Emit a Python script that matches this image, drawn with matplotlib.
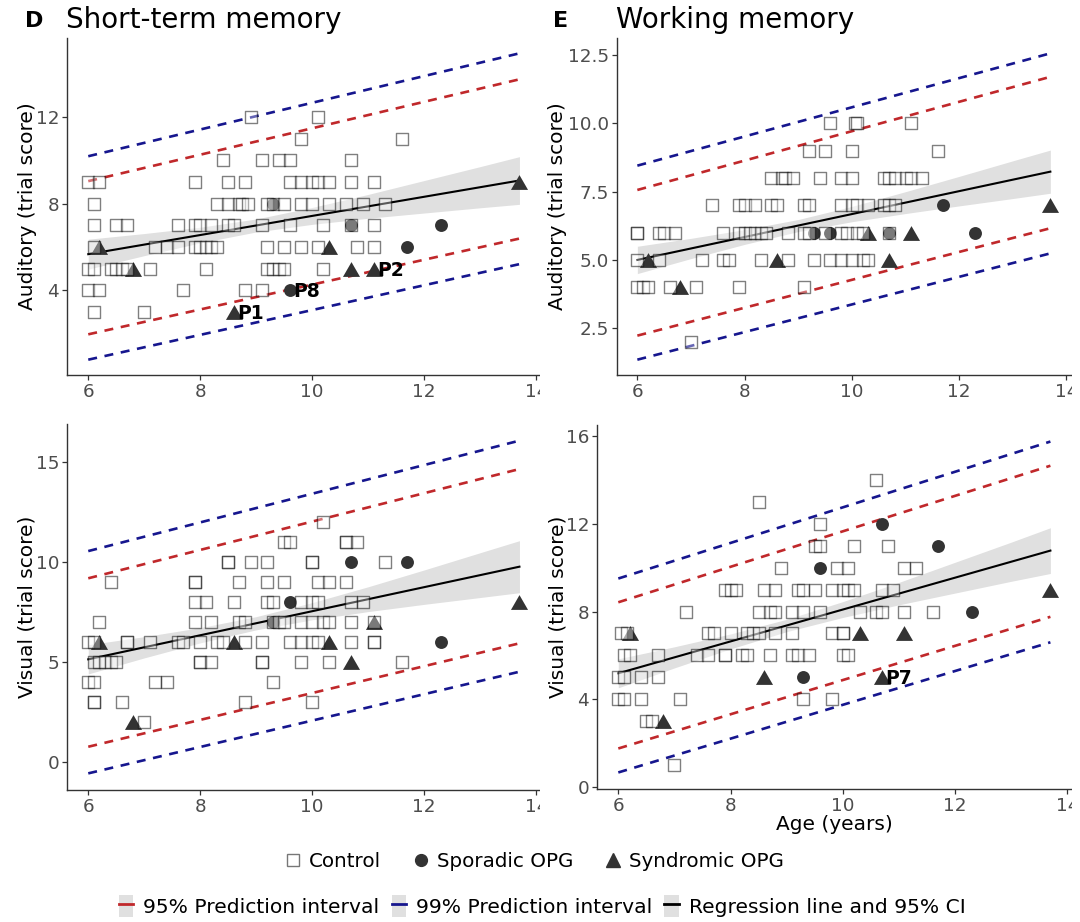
import numpy as np
import matplotlib
matplotlib.use("Agg")
import matplotlib.pyplot as plt
from matplotlib.lines import Line2D
from matplotlib.patches import Patch, Rectangle
from matplotlib.ticker import FormatStrFormatter

plt.rcParams['font.family'] = ['DejaVu Sans']

# ---------------- data ----------------
# patient groups (ages shared across panels)
synd_age = [6.2, 6.8, 8.6, 10.3, 10.7, 11.1, 13.7]
spor_age = [9.3, 9.6, 10.7, 11.7, 12.3]

synd_st_aud = [6, 5, 3, 6, 5, 5, 9]
synd_wm_aud = [5, 4, 5, 6, 5, 6, 7]
synd_st_vis = [6, 2, 6, 6, 5, 7, 8]
synd_wm_vis = [7, 3, 5, 7, 5, 7, 9]

spor_st_aud = [8, 4, 7, 6, 7]
spor_wm_aud = [6, 6, 6, 7, 6]
spor_st_vis = [7, 8, 10, 10, 6]
spor_wm_vis = [5, 10, 12, 11, 8]

# controls: score -> ages
ctrl_st_aud = {
    12: [8.9, 10.1],
    11: [9.8, 11.6],
    10: [8.4, 9.1, 9.4, 9.6, 10.7],
    9: [6.0, 6.2, 7.9, 8.5, 8.8, 9.6, 9.8, 10.0, 10.1, 10.3, 10.7, 11.1],
    8: [6.1, 8.3, 8.5, 8.7, 8.75, 8.85, 9.2, 9.3, 9.5, 9.8, 10.0, 10.3, 10.6, 10.9, 11.3],
    7: [6.1, 6.5, 6.7, 7.6, 7.9, 8.0, 8.2, 8.5, 8.6, 9.1, 9.6, 10.2, 10.7, 11.1],
    6: [6.1, 7.2, 7.4, 7.6, 7.9, 8.0, 8.1, 8.2, 8.3, 9.2, 9.5, 9.8, 10.1, 10.8, 11.1],
    5: [6.0, 6.1, 6.4, 6.5, 6.6, 6.7, 7.1, 8.1, 9.2, 9.3, 9.4, 9.5, 10.2],
    4: [6.0, 6.2, 7.7, 8.8, 9.1],
    3: [6.1, 7.0],
}
ctrl_wm_aud = {
    10: [9.6, 10.05, 10.1, 11.1],
    9: [9.2, 9.5, 10.0, 11.6],
    8: [8.5, 8.7, 8.75, 8.9, 9.4, 9.8, 10.0, 10.6, 10.7, 10.8, 11.0, 11.1, 11.3],
    7: [7.4, 7.9, 8.0, 8.2, 8.5, 8.6, 9.1, 9.2, 9.8, 10.0, 10.1, 10.3, 10.6, 10.7, 10.8],
    6: [6.0, 6.0, 6.4, 6.5, 6.7, 7.6, 7.9, 8.0, 8.1, 8.2, 8.3, 8.4, 8.8, 9.1, 9.2, 9.5,
        9.8, 9.9, 10.1, 10.2, 10.7],
    5: [6.0, 6.4, 7.2, 7.6, 7.7, 8.3, 8.8, 9.3, 9.6, 9.8, 10.0, 10.2, 10.3],
    4: [6.0, 6.1, 6.2, 6.6, 7.1, 7.9, 9.1],
    2: [7.0],
}
ctrl_st_vis = {
    12: [10.2],
    11: [9.5, 9.6, 10.6, 10.6, 10.8],
    10: [8.5, 8.5, 8.9, 9.2, 10.0, 10.0, 11.3],
    9: [6.4, 7.9, 7.9, 8.7, 9.2, 9.5, 10.1, 10.3, 10.6],
    8: [7.9, 8.1, 8.6, 9.2, 9.3, 9.8, 10.0, 10.1, 10.7, 10.9],
    7: [6.2, 7.9, 8.2, 8.7, 8.8, 9.3, 9.4, 9.5, 9.8, 10.0, 10.2, 10.3, 10.7, 11.1],
    6: [6.0, 6.1, 6.7, 6.7, 7.1, 7.6, 7.7, 8.0, 8.3, 8.4, 8.8, 9.1, 9.6, 9.8, 10.0,
        10.1, 10.7, 11.1, 11.1],
    5: [6.1, 6.2, 6.3, 6.4, 6.5, 8.0, 8.0, 8.2, 9.1, 9.1, 9.8, 10.3, 11.6],
    4: [6.0, 6.1, 7.2, 7.4, 9.3],
    3: [6.1, 6.1, 6.6, 8.8, 10.0],
    2: [7.0],
}
ctrl_wm_vis = {
    14: [10.6],
    13: [8.5],
    12: [9.6],
    11: [9.5, 9.6, 10.2, 10.8],
    10: [8.9, 9.9, 10.1, 11.1, 11.3],
    9: [7.9, 8.0, 8.1, 8.6, 8.8, 9.2, 9.3, 9.5, 9.8, 10.0, 10.1, 10.2, 10.7, 10.9],
    8: [7.2, 8.5, 8.7, 8.8, 9.1, 9.3, 9.6, 10.3, 10.6, 10.7, 11.1, 11.6],
    7: [6.05, 6.15, 7.6, 7.7, 8.0, 8.3, 8.4, 8.5, 8.8, 9.1, 9.8, 10.0, 10.0],
    6: [6.1, 6.2, 6.7, 7.4, 7.6, 7.9, 7.9, 8.2, 8.3, 8.7, 9.1, 9.2, 9.4, 10.0, 10.1],
    5: [6.0, 6.1, 6.4, 6.7],
    4: [6.0, 6.1, 6.4, 7.1, 9.3, 9.8],
    3: [6.5, 6.6],
    1: [7.0],
}

# line end values at ages 6 and 13.7
line_ages = [6.0, 13.7]
fit_st_aud = [5.67, 9.07]; pi95_st_aud = ([1.97, 6.39], [9.04, 13.74]); pi99_st_aud = ([0.80, 5.21], [10.19, 14.94])
fit_wm_aud = [5.00, 8.23]; pi95_wm_aud = ([2.23, 6.16], [7.56, 11.70]); pi99_wm_aud = ([1.35, 5.24], [8.45, 12.56])
fit_st_vis = [5.12, 9.75]; pi95_st_vis = ([0.75, 5.92], [9.17, 14.63]); pi99_st_vis = ([-0.58, 4.50], [10.53, 16.05])
fit_wm_vis = [5.19, 10.77]; pi95_wm_vis = ([1.77, 7.76], [8.42, 14.63]); pi99_wm_vis = ([0.68, 6.60], [9.50, 15.73])

# 95% CI half-widths of the regression line
ci_ages = [6, 7, 8, 9, 10, 11, 12, 13, 13.7]
ci_st_aud = [0.69, 0.51, 0.36, 0.30, 0.39, 0.55, 0.75, 0.95, 1.10]
ci_wm_aud = [0.50, 0.37, 0.27, 0.22, 0.28, 0.40, 0.54, 0.69, 0.79]
ci_st_vis = [0.73, 0.53, 0.38, 0.33, 0.43, 0.62, 0.86, 1.12, 1.30]
ci_wm_vis = [0.66, 0.48, 0.34, 0.28, 0.36, 0.51, 0.70, 0.89, 1.04]

x_ticks = [6, 8, 10, 12, 14]

# ---------------- style ----------------
RED = '#C0282B'
BLUE = '#16168E'
BAND = '#E0E0E0'
DARK = '#333333'
TICKC = '#4D4D4D'

W, H = 1080, 922
fig = plt.figure(figsize=(W / 100, H / 100), dpi=100)


def px_axes(l, r, t, b, z):
    ax = fig.add_axes([l / W, 1 - b / H, (r - l) / W, (b - t) / H])
    ax.set_zorder(z)
    ax.patch.set_alpha(0)
    return ax


def draw(ax, ctrl, spor, synd, fit, pi95, pi99, ci, yticks, ylab, ylab_x, fmt=None, labels=()):
    fit = np.asarray(fit)
    slope = (fit[1] - fit[0]) / (line_ages[1] - line_ages[0])
    ca = np.asarray(ci_ages)
    center = fit[0] + slope * (ca - line_ages[0])
    hw = np.asarray(ci)
    ax.fill_between(ca, center - hw, center + hw, color=BAND, lw=0, zorder=1)
    dash = (0, (3.4, 2.9))
    for lo_hi, col in ((pi95, RED), (pi99, BLUE)):
        for arr in lo_hi:
            ax.plot(line_ages, arr, color=col, lw=1.9, ls=dash, zorder=2)
    ax.plot(line_ages, fit, color='black', lw=1.5, zorder=2.5)

    ax.scatter(spor_age, spor, marker='o', s=9.3 ** 2, color=DARK, lw=0, zorder=3)
    tri = [(-1, -0.866), (1, -0.866), (0, 0.866)]
    ax.scatter(synd_age, synd, marker=tri, s=12.3 ** 2, color=DARK, lw=0, zorder=3)

    cx, cy = [], []
    for sc, ages in ctrl.items():
        cx += ages
        cy += [sc] * len(ages)
    ax.scatter(cx, cy, marker='s', s=8.8 ** 2, facecolors=(1, 1, 1, 0.35),
               edgecolors=(0, 0, 0, 0.5), linewidths=1.0, zorder=4)

    for txt, x, y in labels:
        ax.annotate(txt, (x, y), xytext=(2.5, -1), textcoords='offset points',
                    fontsize=13.5, fontweight='bold', ha='left', va='center', zorder=6)

    allv = np.concatenate([np.ravel(pi95), np.ravel(pi99), fit, cy])
    lo, hi = allv.min(), allv.max()
    pad = 0.05 * (hi - lo)
    ax.set_ylim(lo - pad, hi + pad)
    ax.set_xlim(6 - 0.05 * 7.7, 13.7 + 0.05 * 7.7)
    ax.set_xticks(x_ticks)
    ax.set_yticks(yticks)
    if fmt:
        ax.yaxis.set_major_formatter(FormatStrFormatter(fmt))
    for s in ('top', 'right'):
        ax.spines[s].set_visible(False)
    for s in ('left', 'bottom'):
        ax.spines[s].set_color('#333333')
        ax.spines[s].set_linewidth(1.0)
    ax.tick_params(labelsize=13.2, labelcolor=TICKC, color='#333333', length=3.5, width=0.9, pad=2)
    ax.set_ylabel(ylab, fontsize=14.5)
    bb = ax.get_position()
    ax.yaxis.set_label_coords(ylab_x / W, (bb.y0 + bb.y1) / 2, transform=fig.transFigure)


axD1 = px_axes(66.7, 541, 38, 375, 0)
axE1 = px_axes(616.7, 1071, 38, 375, 2)
axD2 = px_axes(66.7, 541, 424, 790, 0)
axE2 = px_axes(596.7, 1072, 425, 789, 2)

draw(axD1, ctrl_st_aud, spor_st_aud, synd_st_aud, fit_st_aud, pi95_st_aud, pi99_st_aud,
     ci_st_aud, [4, 8, 12], 'Auditory (trial score)', 37,
     labels=[('P1', synd_age[2], synd_st_aud[2]), ('P8', spor_age[1], spor_st_aud[1]),
             ('P2', synd_age[5], synd_st_aud[5])])
draw(axE1, ctrl_wm_aud, spor_wm_aud, synd_wm_aud, fit_wm_aud, pi95_wm_aud, pi99_wm_aud,
     ci_wm_aud, [2.5, 5.0, 7.5, 10.0, 12.5], 'Auditory (trial score)', 567, fmt='%.1f')
draw(axD2, ctrl_st_vis, spor_st_vis, synd_st_vis, fit_st_vis, pi95_st_vis, pi99_st_vis,
     ci_st_vis, [0, 5, 10, 15], 'Visual (trial score)', 37)
draw(axE2, ctrl_wm_vis, spor_wm_vis, synd_wm_vis, fit_wm_vis, pi95_wm_vis, pi99_wm_vis,
     ci_wm_vis, [0, 4, 8, 12, 16], 'Visual (trial score)', 567,
     labels=[('P7', synd_age[4], synd_wm_vis[4])])
axE2.set_xlabel('Age (years)', fontsize=14.5, labelpad=0)

# white backgrounds of the right-hand plots (clip overflowing tick labels)
fig.add_artist(Rectangle((0.5, 0.1), 0.5, 0.9, transform=fig.transFigure,
                         facecolor='white', edgecolor='none', zorder=1))
fig.add_artist(Rectangle((1072 / W, 0.1), 1 - 1072 / W, 0.9, transform=fig.transFigure,
                         facecolor='white', edgecolor='none', zorder=3))

# titles and tags
fig.text(25 / W, 1 - 21 / H, 'D', fontsize=16, fontweight='bold', va='center', ha='left', zorder=5)
fig.text(66 / W, 1 - 20 / H, 'Short-term memory', fontsize=20, va='center', ha='left', zorder=5)
fig.text(553 / W, 1 - 21 / H, 'E', fontsize=16, fontweight='bold', va='center', ha='left', zorder=5)
fig.text(616 / W, 1 - 20 / H, 'Working memory', fontsize=20, va='center', ha='left', zorder=5)

# legends
h1 = [Line2D([], [], marker='s', ls='', markersize=8, mfc='white', mec='#777777', mew=1),
      Line2D([], [], marker='o', ls='', markersize=8.5, mfc=DARK, mec=DARK),
      Line2D([], [], marker='^', ls='', markersize=9.5, mfc=DARK, mec=DARK)]
leg1 = fig.legend(h1, ['Control', 'Sporadic OPG', 'Syndromic OPG'], loc='center',
                  bbox_to_anchor=(0.494, 1 - 861 / H), ncol=3, frameon=False, fontsize=14.3,
                  handletextpad=0.3, columnspacing=1.5, handlelength=1.0)
leg1.set_zorder(6)
h2 = [(Patch(facecolor=BAND, edgecolor='none'), Line2D([], [], color=RED, lw=2)),
      (Patch(facecolor=BAND, edgecolor='none'), Line2D([], [], color=BLUE, lw=2)),
      (Patch(facecolor=BAND, edgecolor='none'), Line2D([], [], color='black', lw=2))]
leg2 = fig.legend(h2, ['95% Prediction interval', '99% Prediction interval',
                       'Regression line and 95% CI'], loc='center',
                  bbox_to_anchor=(0.502, 1 - 906 / H), ncol=3, frameon=False, fontsize=14.6,
                  handletextpad=0.5, columnspacing=0.6, handlelength=0.7, handleheight=1.3)
leg2.set_zorder(6)

fig.savefig('out.png', dpi=100, facecolor='white')
